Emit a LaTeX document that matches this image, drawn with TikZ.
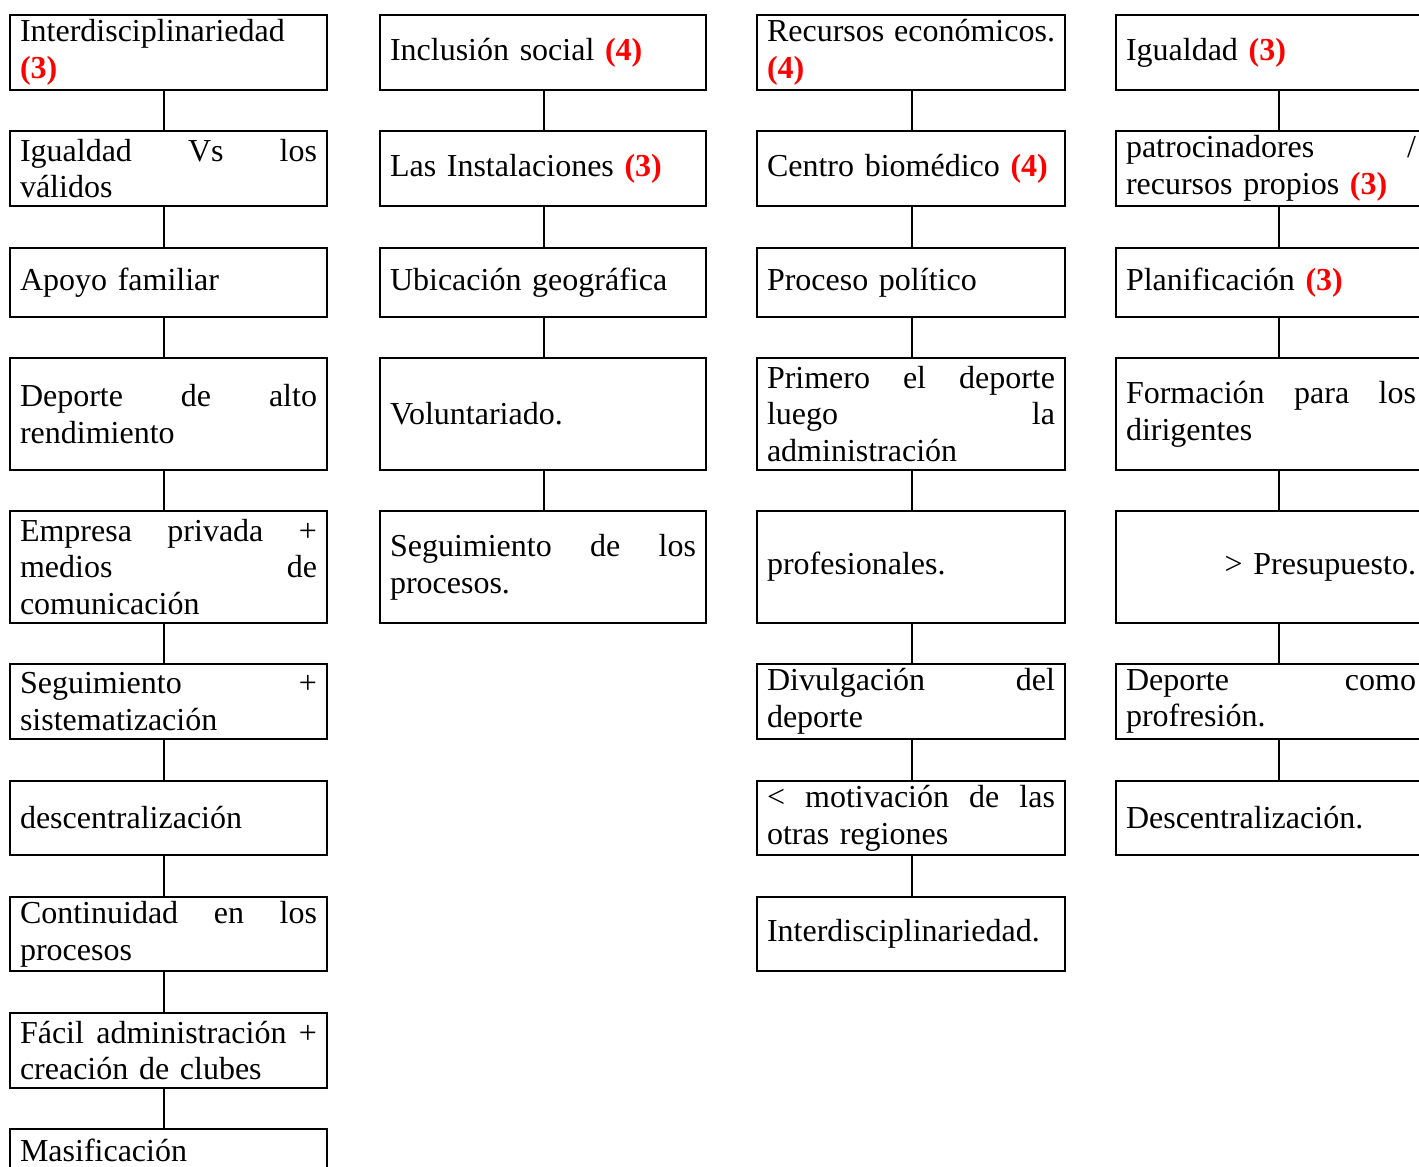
\documentclass[tikz,border=0pt]{standalone}
\usepackage{fontspec}
\setmainfont{Liberation Serif}
\usepackage{tikz}

\newcommand{\rojo}[1]{\textcolor{red}{\textbf{#1}}}

\begin{document}
\begin{tikzpicture}[x=0.5pt,y=-0.5pt,
    caja/.style={draw=black,line width=1pt,anchor=north west,inner xsep=5pt,inner ysep=0pt,
      align=left,font=\fontsize{16}{18.4}\selectfont,minimum height=37.5pt},
    alta/.style={minimum height=56pt},
    baja/.style={minimum height=34.5pt},
    colA/.style={text width=148.5pt},
    colB/.style={text width=153pt},
    colC/.style={text width=144pt},
    colD/.style={text width=145pt},
    conector/.style={draw=black,line width=1pt}]
      \useasboundingbox (0,0) rectangle (1419,1167);
      \clip (0,0) rectangle (1419,1167);
      % primera columna
      \node (a1) [caja,colA] at (9,14) {Interdisciplinariedad\\\rojo{(3)}};
      \node (a2) [caja,colA] at (9,130) {Igualdad\hfill Vs\hfill los\\válidos};
      \node (a3) [caja,colA,baja] at (9,247) {Apoyo familiar};
      \node (a4) [caja,colA,alta] at (9,357) {Deporte\hfill de\hfill alto\\rendimiento};
      \node (a5) [caja,colA,alta] at (9,510) {Empresa\hfill privada\hfill +\\medios\hfill de\\comunicación};
      \node (a6) [caja,colA] at (9,663) {Seguimiento\hfill +\\sistematización};
      \node (a7) [caja,colA,minimum height=37pt] at (9,780) {descentralización};
      \node (a8) [caja,colA,minimum height=37pt] at (9,896) {Continuidad\hfill en\hfill los\\procesos};
      \node (a9) [caja,colA] at (9,1012) {Fácil\hfill administración\hfill +\\creación de clubes};
      \node (a10) [caja,colA,text height=16pt,text depth=21.5pt] at (9,1128) {Masificación};
      % segunda columna
      \node (b1) [caja,colB] at (379,14) {Inclusión social \rojo{(4)}};
      \node (b2) [caja,colB] at (379,130) {Las Instalaciones \rojo{(3)}};
      \node (b3) [caja,colB,baja] at (379,247) {Ubicación geográfica};
      \node (b4) [caja,colB,alta] at (379,357) {Voluntariado.};
      \node (b5) [caja,colB,alta] at (379,510) {Seguimiento\hfill de\hfill los\\procesos.};
      % tercera columna
      \node (c1) [caja,colC] at (756,14) {Recursos\hfill económicos.\\\rojo{(4)}};
      \node (c2) [caja,colC] at (756,130) {Centro biomédico \rojo{(4)}};
      \node (c3) [caja,colC,baja] at (756,247) {Proceso político};
      \node (c4) [caja,colC,alta] at (756,357) {Primero\hfill el\hfill deporte\\luego\hfill la\\administración};
      \node (c5) [caja,colC,alta] at (756,510) {profesionales.};
      \node (c6) [caja,colC] at (756,663) {Divulgación\hfill del\\deporte};
      \node (c7) [caja,colC,minimum height=37pt] at (756,780) {<\hfill motivación\hfill de\hfill las\\otras regiones};
      \node (c8) [caja,colC,minimum height=37pt] at (756,896) {Interdisciplinariedad.};
      % cuarta columna
      \node (d1) [caja,colD] at (1115,14) {Igualdad \rojo{(3)}};
      \node (d2) [caja,colD] at (1115,130) {patrocinadores\hfill /\\recursos propios \rojo{(3)}};
      \node (d3) [caja,colD,baja] at (1115,247) {Planificación \rojo{(3)}};
      \node (d4) [caja,colD,alta] at (1115,357) {Formación\hfill para\hfill los\\dirigentes};
      \node (d5) [caja,colD,alta,align=right] at (1115,510) {> Presupuesto.};
      \node (d6) [caja,colD] at (1115,663) {Deporte\hfill como\\profresión.};
      \node (d7) [caja,colD,minimum height=37pt] at (1115,780) {Descentralización.};
      % uniones
      \foreach \c/\m/\s in {a/9/-2.25pt,b/4/0.5pt,c/7/0.5pt,d/6/3.75pt}{
        \foreach \i [evaluate=\i as \j using int(\i+1)] in {1,...,\m}{
          \draw [conector] ([xshift=\s]\c\i.south) -- ([xshift=\s]\c\j.north);
        }
      }
    \end{tikzpicture}
\end{document}
